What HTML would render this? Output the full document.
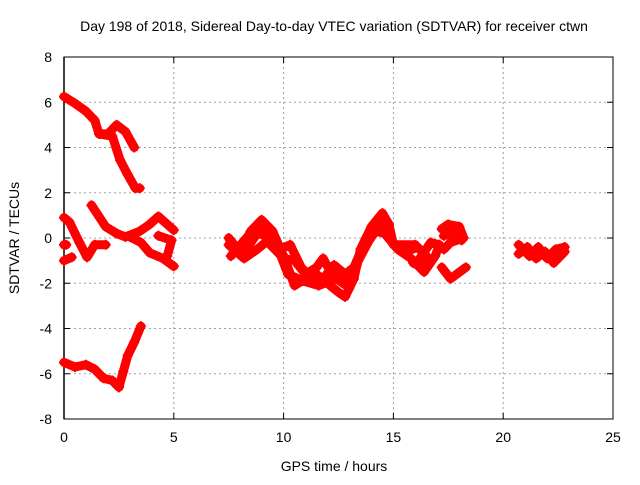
<!DOCTYPE html>
<html><head><meta charset="utf-8"><style>
html,body{margin:0;padding:0;background:#fff}
svg text{font-family:"Liberation Sans",sans-serif;font-size:14px;fill:#000}
</style></head><body>
<svg id="chart" width="640" height="480" xmlns="http://www.w3.org/2000/svg">
<rect width="640" height="480" fill="#fff"/>
<g id="grid"></g>
<g id="axes"></g>
<g id="series"></g>
<text x="334" y="31" text-anchor="middle">Day 198 of 2018, Sidereal Day-to-day VTEC variation (SDTVAR) for receiver ctwn</text>
<text x="334" y="471" text-anchor="middle">GPS time / hours</text>
<text x="0" y="0" text-anchor="middle" transform="translate(19,238) rotate(-90)">SDTVAR / TECUs</text>
</svg>
<script>
const xTicks=[0,5,10,15,20,25];
const yTicks=[-8,-6,-4,-2,0,2,4,6,8];
const trackTop1=[[0,6.25],[0.5,5.95],[1,5.6],[1.4,5.2],[1.6,4.6],[2.0,4.6],[2.4,5.0],[2.8,4.7],[3.2,4.0]];
const trackTop2=[[1.6,4.6],[2.2,4.5],[2.55,3.45],[2.9,2.8],[3.25,2.2],[3.45,2.2]];
const trackMid1=[[0,0.9],[0.25,0.7],[0.7,-0.2],[1.05,-0.85],[1.4,-0.3],[1.9,-0.3]];
const trackMid2=[[1.25,1.45],[1.9,0.5],[2.4,0.2],[2.8,0.05],[3.45,0.3],[3.9,0.6],[4.3,0.95],[5.0,0.35]];
const trackMid3=[[3.0,0.05],[3.5,-0.2],[3.9,-0.65],[4.5,-0.9],[5.0,-1.25]];
const trackMid4=[[4.3,0.1],[4.9,-0.1],[4.7,-0.8]];
const trackDot1=[[0,-0.3],[0.1,-0.3]];
const trackDot2=[[0,-1.0],[0.35,-0.85]];
const trackBot=[[0,-5.5],[0.5,-5.7],[1,-5.6],[1.4,-5.8],[1.8,-6.2],[2.2,-6.3],[2.5,-6.6],[2.7,-5.9],[2.9,-5.2],[3.2,-4.6],[3.5,-3.9]];
const trackC=[[7.5,0.0],[8.0,-0.6],[8.5,0.3],[9.0,0.8],[9.5,0.3],[10.0,-0.8],[10.5,-2.1],[11,-1.8],[11.5,-1.6],[12,-2.0],[12.5,-2.4],[12.8,-2.6],[13.2,-1.8],[13.5,-0.5],[14,0.5],[14.5,1.1],[14.8,0.6],[15.0,-0.3],[16.0,-0.3]];
const trackD=[[7.5,-0.3],[8.2,-0.9],[8.8,-0.5],[9.3,-0.1],[9.8,-0.5],[10.3,-0.3],[10.8,-1.3],[11.2,-1.7],[11.8,-1.8],[12.3,-1.2],[12.8,-1.6],[13.2,-1.3],[13.6,-0.4],[14.2,0.3],[14.6,0.2],[15.2,-0.5],[15.8,-0.9],[16.4,-1.5],[16.9,-0.8],[17.1,-0.3],[16.7,-0.2],[16.2,-0.9]];
const trackF=[[8.3,-0.5],[9,0.5],[9.3,-0.2],[10,-0.9],[10.5,-1.0],[11,-1.6],[11.5,-1.3],[11.8,-0.9],[12.2,-1.6],[13.0,-1.8]];
const trackH=[[7.6,-0.8],[8.4,0.1],[8.9,0.2],[9.6,-0.1],[10.2,-1.6],[10.9,-1.9],[11.6,-2.1],[12.4,-1.8],[13.0,-2.2],[13.4,-1.0],[13.9,-0.1],[14.4,0.6],[14.9,-0.1]];
const trackLoop=[[15.6,-0.6],[16.1,-0.4],[16.6,-0.9],[16.3,-1.3],[15.9,-1.1]];
const trackE=[[17.2,0.4],[17.5,0.6],[18.0,0.5],[18.2,0.0],[17.6,-0.2],[17.3,-0.5]];
const trackE2=[[17.3,0.1],[17.8,0.3],[18.1,-0.1]];
const trackG=[[17.2,-1.3],[17.6,-1.8],[18.3,-1.3]];
const trackR1=[[20.7,-0.3],[21.2,-0.8],[21.6,-0.4],[22.0,-0.9],[22.4,-0.5],[22.8,-0.4]];
const trackR2=[[20.7,-0.7],[21.1,-0.4],[21.5,-0.9],[21.9,-0.6],[22.3,-1.1],[22.8,-0.6]];
const tracks=[trackTop1,trackTop2,trackMid1,trackMid2,trackMid3,trackMid4,trackDot1,trackDot2,trackBot,trackC,trackD,trackF,trackH,trackLoop,trackE,trackE2,trackG,trackR1,trackR2];

const X0=64,X1=613,Y0=419,Y1=57;
const xs=t=>X0+(t-0)/(25-0)*(X1-X0);
const ys=v=>Y0-(v+8)/16*(Y0-Y1);
const NS="http://www.w3.org/2000/svg";
function mk(tag,attrs,parent){const e=document.createElementNS(NS,tag);for(const k in attrs)e.setAttribute(k,attrs[k]);parent.appendChild(e);return e;}
const grid=document.getElementById('grid'),axes=document.getElementById('axes'),series=document.getElementById('series');
xTicks.forEach(t=>{
  const x=xs(t);
  if(t>0&&t<25){const g=mk('line',{x1:x,x2:x,y1:Y1,y2:Y0,stroke:'#a0a0a0','stroke-dasharray':'2,3'},grid);
  
  }
  const tk=mk('line',{x1:x,x2:x,y1:Y0,y2:Y0-6,stroke:'#000'},axes);
  
  
  const tk2=mk('line',{x1:x,x2:x,y1:Y1,y2:Y1+6,stroke:'#000'},axes);
  
  
  const l=mk('text',{x:x,y:Y0+23,'text-anchor':'middle'},axes);l.textContent=t;
  
  
});
yTicks.forEach(v=>{
  const y=ys(v);
  if(v>-8&&v<8){const g=mk('line',{x1:X0,x2:X1,y1:y,y2:y,stroke:'#a0a0a0','stroke-dasharray':'2,3'},grid);
  
  }
  const tk=mk('line',{x1:X0,x2:X0+6,y1:y,y2:y,stroke:'#000'},axes);
  
  
  const tk2=mk('line',{x1:X1,x2:X1-6,y1:y,y2:y,stroke:'#000'},axes);
  
  
  const l=mk('text',{x:X0-12,y:y+5,'text-anchor':'end'},axes);l.textContent=v;
  
  
});
const box=mk('rect',{x:X0,y:Y1,width:X1-X0,height:Y0-Y1,fill:'none',stroke:'#000'},axes);


const zero=mk('line',{x1:X0,x2:X0,y1:Y1,y2:Y0,stroke:'#000','stroke-width':1.5},axes);


tracks.forEach(tr=>{
  const pts=tr.map(p=>xs(p[0]).toFixed(1)+','+ys(p[1]).toFixed(1)).join(' ');
  const pl=mk('polyline',{points:pts,fill:'none',stroke:'#f00','stroke-width':9,'stroke-linejoin':'round','stroke-linecap':'round'},series);
  
  
  tr.forEach(p=>{
    const x=xs(p[0]),y=ys(p[1]);
    const m=mk('path',{d:`M${x-5},${y}h10M${x},${y-5}v10`,stroke:'#f00','stroke-width':2},series);
    
    
  });
});
</script>
</body></html>
